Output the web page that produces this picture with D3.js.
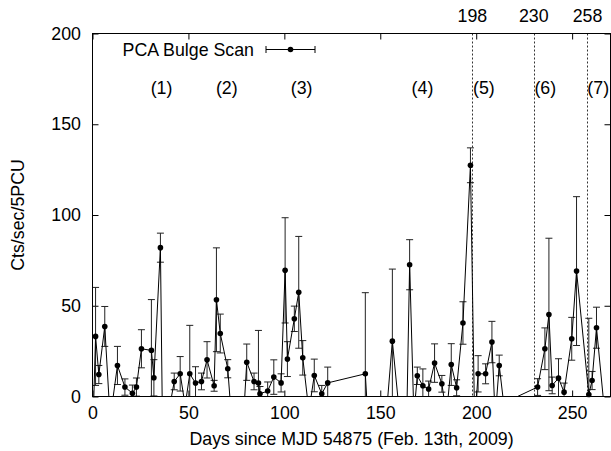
<!DOCTYPE html>
<html>
<head>
<meta charset="utf-8">
<script src="https://cdn.jsdelivr.net/npm/d3@7"></script>
<style>
  body { margin: 0; background: #fff; }
  svg text { font-family: "Liberation Sans", Arial, sans-serif; font-size: 17.8px; fill: #000; }
</style>
</head>
<body>
<svg id="chart" width="611" height="451"></svg>
<script>
// data (days since MJD 54875, counts/sec/5PCU, 1-sigma error)
// points below zero are off the plot, only their connecting lines show
var days = [0.3, 1.6, 3.3, 6.4, 9.2, 13.0, 16.9, 20.8, 22.9, 25.5, 30.7, 32.0, 35.4, 36.6,
    42.6, 45.7, 48.3, 50.7, 53.7, 56.8, 59.7, 63.4, 64.6, 66.6, 70.5, 73.0, 78.0, 80.4,
    84.2, 86.5, 87.3, 91.3, 94.5, 98.3, 100.4, 101.6, 105.2, 107.5, 109.6, 112.8, 115.6,
    119.5, 122.6, 142.2, 144.0, 152.0, 156.3, 160.5, 163.3, 165.3, 167.5, 169.3, 172.2,
    175.2, 178.3, 182.1, 184.5, 187.0, 189.8, 193.1, 197.0, 199.2, 201.0, 204.9, 208.2,
    209.9, 212.0, 214.3, 232.0, 235.8, 237.9, 239.6, 242.9, 245.8, 249.8, 252.3, 258.7,
    260.4, 262.7, 267.5];
var rates = [-15, 33.1, 12.1, 38.6, -12.5, 17.1, 5.2, 1.8, 5.2, 26.3, 25.4, 10.3, 82.0, -27,
    8.3, 12.5, -5, 12.5, 7.4, 8.3, 20.2, 5.9, 53.3, 34.7, 15.3, -20, -25, 18.9,
    8.3, 7.4, 1.5, 3.0, 10.7, 7.5, 69.5, 20.6, 42.8, 57.4, 21.3, -8, 11.6,
    1.5, 7.5, 12.5, -20, -25, 30.5, -15, -40, 72.6, -10, 11.4, 5.9,
    4.1, 18.4, 7.0, -10, 17.6, 4.8, 40.5, 127.4, -15, 12.5, 12.5, 30.0,
    -12, 17.1, -3.6, 5.2, 26.3, 45.2, 6.1, 10.1, 2.4, 31.8, 69.1, 1.1,
    8.8, 37.9, -15];
var errs = [0, 27, 5, 11, 0, 10.5, 4.5, 4.5, 5, 10.5, 28, 10, 8, 0,
    4.6, 9.5, 0, 26.7, 9, 4.6, 10, 3, 28.6, 10.7, 5, 0, 0, 10,
    4.6, 29, 4, 5, 9.5, 5, 29, 9.6, 7, 30.8, 9.5, 0, 9,
    4.6, 8.7, 44.7, 0, 0, 39.7, 0, 0, 13.8, 0, 4.8, 9.3,
    4.4, 10.6, 4.6, 0, 11.5, 4.4, 11.7, 9.6, 0, 10, 5.5, 11.4,
    0, 5.7, 0, 4.6, 11.5, 42, 4.6, 10.7, 5, 11.8, 41, 42,
    5, 11.3, 0];

var markerDays = [198, 230, 258];
var intervalLabels = ["(1)", "(2)", "(3)", "(4)", "(5)", "(6)", "(7)"];
var intervalDays = [36, 70, 109, 172, 204, 236, 263.6];
var xTicks = [0, 50, 100, 150, 200, 250];
var yTicks = [0, 50, 100, 150, 200];

var points = days.map(function(d, i) {
    return {day: d, rate: rates[i], err: errs[i]};
});

var padL = 92.5, padR = 610.5, padT = 33.5, padB = 396.5;

var x = d3.scaleLinear().domain([0, 270]).range([padL, padR]);
var y = d3.scaleLinear().domain([0, 200]).range([padB, padT]);

var svg = d3.select("#chart");

svg.append("defs")
    .append("clipPath")
    .attr("id", "plotclip")
    .append("rect")
    .attr("x", padL)
    .attr("y", padT)
    .attr("width", padR - padL)
    .attr("height", padB - padT);

// axes, ticks point inward and are mirrored
svg.append("g")
    .attr("transform", "translate(0," + padB + ")")
    .call(d3.axisBottom(x).tickValues(xTicks).tickSizeInner(-6).tickSizeOuter(0).tickPadding(9.5))
    .call(function(g) { g.select(".domain").remove(); });

svg.append("g")
    .attr("transform", "translate(0," + padT + ")")
    .call(d3.axisTop(x).tickValues(xTicks).tickSizeInner(-6).tickSizeOuter(0).tickFormat(""))
    .call(function(g) { g.select(".domain").remove(); });

svg.append("g")
    .attr("transform", "translate(" + padL + ",0)")
    .call(d3.axisLeft(y).tickValues(yTicks).tickSizeInner(-6).tickSizeOuter(0).tickPadding(11.5))
    .call(function(g) { g.select(".domain").remove(); });

svg.append("g")
    .attr("transform", "translate(" + padR + ",0)")
    .call(d3.axisRight(y).tickValues(yTicks).tickSizeInner(-6).tickSizeOuter(0).tickFormat(""))
    .call(function(g) { g.select(".domain").remove(); });

svg.selectAll(".tick text")
    .style("font-size", "17.8px")
    .style("font-family", "'Liberation Sans', Arial, sans-serif");

svg.selectAll(".tick line").attr("stroke", "#000");

// x2 markers
svg.append("g")
    .selectAll("line")
    .data(markerDays)
    .enter()
    .append("line")
    .attr("x1", function(d) { return Math.round(x(d)) + 0.5; })
    .attr("x2", function(d) { return Math.round(x(d)) + 0.5; })
    .attr("y1", padT)
    .attr("y2", padB)
    .attr("stroke", "#333")
    .attr("stroke-width", 1)
    .attr("stroke-dasharray", "2,2");

svg.append("g")
    .selectAll("text")
    .data(markerDays)
    .enter()
    .append("text")
    .attr("x", function(d) { return x(d); })
    .attr("y", 22)
    .style("text-anchor", "middle")
    .text(function(d) { return d; });

var plot = svg.append("g").attr("clip-path", "url(#plotclip)");

// error bars
var bars = plot.append("g")
    .selectAll("g")
    .data(points.filter(function(d) { return d.err > 0 && d.rate + d.err > 0; }))
    .enter()
    .append("g")
    .attr("stroke", "#222")
    .attr("stroke-width", 1);

bars.append("line")
    .attr("x1", function(d) { return x(d.day); })
    .attr("x2", function(d) { return x(d.day); })
    .attr("y1", function(d) { return y(d.rate - d.err); })
    .attr("y2", function(d) { return y(d.rate + d.err); });

bars.append("line")
    .attr("x1", function(d) { return x(d.day) - 3.5; })
    .attr("x2", function(d) { return x(d.day) + 3.5; })
    .attr("y1", function(d) { return y(d.rate + d.err); })
    .attr("y2", function(d) { return y(d.rate + d.err); });

bars.append("line")
    .attr("x1", function(d) { return x(d.day) - 3.5; })
    .attr("x2", function(d) { return x(d.day) + 3.5; })
    .attr("y1", function(d) { return y(d.rate - d.err); })
    .attr("y2", function(d) { return y(d.rate - d.err); });

// connecting line
var line = d3.line()
    .x(function(d) { return x(d.day); })
    .y(function(d) { return y(d.rate); });

plot.append("path")
    .datum(points)
    .attr("d", line)
    .attr("fill", "none")
    .attr("stroke", "#000")
    .attr("stroke-width", 1);

// points (not clipped, out of range ones skipped)
svg.append("g")
    .selectAll("circle")
    .data(points.filter(function(d) { return d.rate >= 0; }))
    .enter()
    .append("circle")
    .attr("cx", function(d) { return x(d.day); })
    .attr("cy", function(d) { return y(d.rate); })
    .attr("r", 2.8)
    .attr("fill", "#000");

// frame
svg.append("rect")
    .attr("x", padL)
    .attr("y", padT)
    .attr("width", padR - padL)
    .attr("height", padB - padT)
    .attr("fill", "none")
    .attr("stroke", "#000")
    .attr("stroke-width", 1);

// interval labels
svg.append("g")
    .selectAll("text")
    .data(intervalLabels)
    .enter()
    .append("text")
    .attr("x", function(d, i) { return x(intervalDays[i]); })
    .attr("y", 94)
    .style("text-anchor", "middle")
    .text(function(d) { return d; });

// legend
var legY = 49.5;
svg.append("text")
    .attr("x", 254)
    .attr("y", legY + 6)
    .style("text-anchor", "end")
    .text("PCA Bulge Scan");

var leg = svg.append("g").attr("stroke", "#000").attr("stroke-width", 1);
leg.append("line").attr("x1", 266).attr("x2", 315).attr("y1", legY).attr("y2", legY);
leg.append("line").attr("x1", 266).attr("x2", 266).attr("y1", legY - 3.5).attr("y2", legY + 3.5);
leg.append("line").attr("x1", 315).attr("x2", 315).attr("y1", legY - 3.5).attr("y2", legY + 3.5);
svg.append("circle").attr("cx", 290.5).attr("cy", legY).attr("r", 2.8).attr("fill", "#000");

// axis titles
svg.append("text")
    .attr("x", (padL + padR) / 2)
    .attr("y", 445)
    .style("text-anchor", "middle")
    .text("Days since MJD 54875 (Feb. 13th, 2009)");

svg.append("text")
    .attr("transform", "translate(24," + (padT + padB) / 2 + ") rotate(-90)")
    .style("text-anchor", "middle")
    .text("Cts/sec/5PCU");
</script>
</body>
</html>
